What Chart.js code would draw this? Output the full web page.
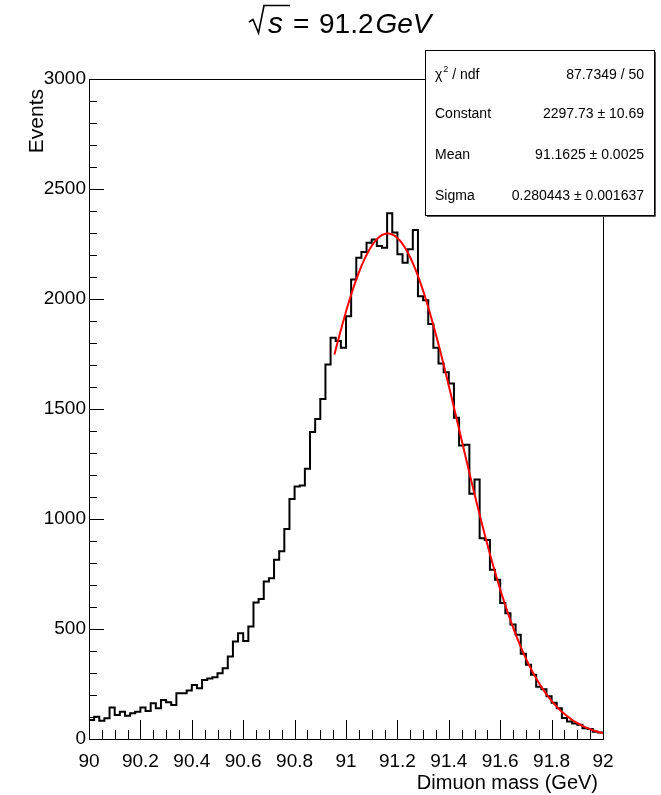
<!DOCTYPE html>
<html>
<head>
<meta charset="utf-8">
<script src="https://cdn.jsdelivr.net/npm/chart.js@4/dist/chart.umd.min.js"></script>
<style>
  html, body { margin: 0; padding: 0; background: #ffffff; }
  #wrap { width: 661px; height: 795px; position: relative; }
</style>
</head>
<body>
<div id="wrap"><canvas id="c" width="661" height="795"></canvas></div>
<script>
// ---------------- data ----------------
const xMin = 90;
const xMax = 92;
const nBins = 100;
const counts = [
  86, 101, 83, 94, 143, 109, 124, 106, 117, 124,
  143, 127, 162, 140, 177, 167, 155, 208, 208, 220,
  246, 231, 268, 275, 281, 299, 322, 375, 443, 481,
  446, 511, 620, 636, 716, 731, 815, 853, 954, 1091,
  1148, 1152, 1228, 1396, 1455, 1546, 1702, 1824, 1809, 1778,
  1922, 2089, 2188, 2214, 2256, 2271, 2241, 2233, 2390, 2302,
  2203, 2165, 2226, 2314, 2013, 1994, 1886, 1778, 1707, 1667,
  1616, 1460, 1334, 1338, 1115, 1179, 913, 905, 769, 724,
  618, 572, 520, 474, 387, 338, 292, 238, 226, 194,
  165, 140, 96, 80, 71, 65, 49, 45, 33, 30
];
const xTickValues = [90, 90.2, 90.4, 90.6, 90.8, 91, 91.2, 91.4, 91.6, 91.8, 92];
const xTickLabels = ['90', '90.2', '90.4', '90.6', '90.8', '91', '91.2', '91.4', '91.6', '91.8', '92'];
const yTickValues = [0, 500, 1000, 1500, 2000, 2500, 3000];
const yTickLabels = ['0', '500', '1000', '1500', '2000', '2500', '3000'];

// Gaussian fit result (shown in the stats box)
const fitConstant = 2297.73;
const fitMean = 91.1625;
const fitSigma = 0.280443;
const fitRange = [90.955, 92];
const statsRows = [
  ['χ2 / ndf', '87.7349 / 50'],
  ['Constant', '2297.73 ± 10.69'],
  ['Mean', '91.1625 ± 0.0025'],
  ['Sigma', '0.280443 ± 0.001637']
];
const titleText = { number: '91.2', unit: 'GeV' };
const xTitle = 'Dimuon mass (GeV)';
const yTitle = 'Events';

// ---------------- build datasets ----------------
const binWidth = (xMax - xMin) / nBins;
const histPoints = counts.map((v, i) => ({ x: xMin + i * binWidth, y: v }));
histPoints.push({ x: xMax, y: counts[counts.length - 1] });

const fitPoints = [];
const nFit = 200;
for (let k = 0; k <= nFit; k++) {
  const x = fitRange[0] + (fitRange[1] - fitRange[0]) * k / nFit;
  const z = (x - fitMean) / fitSigma;
  fitPoints.push({ x: x, y: fitConstant * Math.exp(-0.5 * z * z) });
}

const FONT = '"Liberation Sans", Arial, Helvetica, sans-serif';

// ---------------- ROOT-style decorations ----------------
const rootPlugin = {
  id: 'rootStyle',
  afterDraw(chart) {
    const ctx = chart.ctx;
    const ca = chart.chartArea;
    const xs = chart.scales.x, ys = chart.scales.y;
    ctx.save();
    ctx.strokeStyle = '#000';
    ctx.lineWidth = 1;
    // frame
    ctx.strokeRect(Math.round(ca.left) + 0.5, Math.round(ca.top) + 0.5,
                   Math.round(ca.right - ca.left), Math.round(ca.bottom - ca.top));
    // x ticks (inward)
    ctx.beginPath();
    for (let k = 0; k <= 40; k++) {
      const v = xMin + k * 0.05;
      const px = Math.round(xs.getPixelForValue(v)) + 0.5;
      const len = (k % 4 === 0) ? 19 : 9;
      ctx.moveTo(px, ca.bottom);
      ctx.lineTo(px, ca.bottom - len);
    }
    // y ticks (inward)
    for (let k = 0; k <= 30; k++) {
      const v = k * 100;
      const py = Math.round(ys.getPixelForValue(v)) + 0.5;
      const len = (k % 5 === 0) ? 15 : 8;
      ctx.moveTo(ca.left, py);
      ctx.lineTo(ca.left + len, py);
    }
    ctx.stroke();

    // axis titles
    ctx.fillStyle = '#000';
    ctx.font = '20px ' + FONT;
    ctx.textAlign = 'right';
    ctx.textBaseline = 'alphabetic';
    ctx.fillText(xTitle, 598, 789);
    ctx.save();
    ctx.font = '21px ' + FONT;
    ctx.translate(43, 89);
    ctx.rotate(-Math.PI / 2);
    ctx.textAlign = 'right';
    ctx.fillText(yTitle, 0, 0);
    ctx.restore();

    // title: sqrt(s) = 91.2 GeV
    ctx.lineWidth = 1.6;
    ctx.beginPath();
    ctx.moveTo(249, 22);
    ctx.lineTo(253, 19.5);
    ctx.lineTo(258.5, 33);
    ctx.lineTo(264, 5.5);
    ctx.lineTo(290, 5.5);
    ctx.stroke();
    ctx.textAlign = 'left';
    ctx.font = 'italic 30px ' + FONT;
    ctx.fillText('s', 268, 33);
    ctx.font = '28px ' + FONT;
    ctx.fillText('=', 293, 33);
    ctx.fillText(titleText.number, 319, 33);
    const wNum = ctx.measureText(titleText.number).width;
    ctx.font = 'italic 28px ' + FONT;
    ctx.fillText(titleText.unit, 319 + wNum + 2, 33);

    // stats box
    const bx = 425, by = 50, bw = 229, bh = 165;
    ctx.fillStyle = '#fff';
    ctx.fillRect(bx, by, bw, bh);
    ctx.strokeStyle = '#000';
    ctx.lineWidth = 1;
    ctx.strokeRect(bx + 0.5, by + 0.5, bw, bh);
    ctx.strokeStyle = '#555';
    ctx.beginPath();
    ctx.moveTo(bx + bw + 1.5, by + 2);
    ctx.lineTo(bx + bw + 1.5, by + bh + 1.5);
    ctx.lineTo(bx + 2, by + bh + 1.5);
    ctx.stroke();
    ctx.fillStyle = '#000';
    const rowY = [79, 118, 159, 200];
    statsRows.forEach((r, i) => {
      ctx.font = '14px ' + FONT;
      ctx.textAlign = 'left';
      if (i === 0) {
        ctx.fillText('χ', 435, rowY[i]);
        const w = ctx.measureText('χ').width;
        ctx.font = '9px ' + FONT;
        ctx.fillText('2', 435 + w + 1, rowY[i] - 7);
        const w2 = ctx.measureText('2').width;
        ctx.font = '14px ' + FONT;
        ctx.fillText(' / ndf', 435 + w + 1 + w2, rowY[i]);
      } else {
        ctx.fillText(r[0], 435, rowY[i]);
      }
      ctx.textAlign = 'right';
      ctx.fillText(r[1], 644, rowY[i]);
    });
    ctx.restore();
  }
};

new Chart(document.getElementById('c'), {
  type: 'line',
  data: {
    datasets: [
      {
        label: 'fit',
        data: fitPoints,
        borderColor: '#ff0000',
        borderWidth: 2,
        pointRadius: 0,
        tension: 0,
        fill: false,
        order: 0
      },
      {
        label: 'hist',
        data: histPoints,
        borderColor: '#000000',
        borderWidth: 2,
        pointRadius: 0,
        stepped: 'before',
        fill: false,
        order: 1
      }
    ]
  },
  options: {
    responsive: false,
    animation: false,
    devicePixelRatio: 1,
    layout: { padding: { left: 0, right: 58, top: 79, bottom: 0 } },
    plugins: { legend: { display: false }, tooltip: { enabled: false }, title: { display: false } },
    scales: {
      x: {
        type: 'linear',
        min: xMin,
        max: xMax,
        grid: { display: false, drawTicks: false },
        border: { display: false },
        afterBuildTicks(scale) { scale.ticks = xTickValues.map(v => ({ value: v })); },
        afterFit(scale) { scale.height = 56; },
        ticks: {
          autoSkip: false,
          maxRotation: 0,
          padding: 11,
          color: '#000',
          font: { family: FONT, size: 19 },
          callback(value) {
            const i = xTickValues.findIndex(v => Math.abs(v - value) < 1e-6);
            return i >= 0 ? xTickLabels[i] : '';
          }
        }
      },
      y: {
        type: 'linear',
        min: 0,
        max: 3000,
        grid: { display: false, drawTicks: false },
        border: { display: false },
        afterBuildTicks(scale) { scale.ticks = yTickValues.map(v => ({ value: v })); },
        afterFit(scale) { scale.width = 89; },
        ticks: {
          autoSkip: false,
          padding: 3,
          color: '#000',
          font: { family: FONT, size: 19 },
          callback(value) {
            const i = yTickValues.indexOf(value);
            return i >= 0 ? yTickLabels[i] : '';
          }
        }
      }
    }
  },
  plugins: [rootPlugin]
});
</script>
</body>
</html>
